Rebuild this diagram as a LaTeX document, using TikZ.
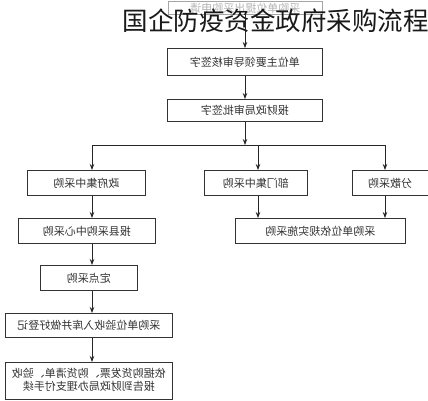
\documentclass[tikz,border=0pt]{standalone}
\usepackage{fontspec}
\usepackage{graphicx}
\newfontfamily\cjk{Noto Sans CJK SC}
\usetikzlibrary{arrows.meta,positioning}
\tikzset{
  boxst/.style={draw=black!80, line width=0.8pt, inner sep=0pt, font=\cjk\fontsize{11}{14}\selectfont, text=black!80},
  flow/.style={draw=black!85, line width=0.8pt, -{Stealth[length=6pt,width=4.5pt]}},
  plain/.style={draw=black!85, line width=0.8pt}
}
\begin{document}
\begin{tikzpicture}[x=1pt,y=1pt]
\useasboundingbox (0,0) rectangle (428,-400);
% boxes
\node[boxst, draw=black!35, text=black!30, minimum width=154, minimum height=13, anchor=north west] (b1) at (168,-1) {\reflectbox{采购单位提出采购申请}};
\node[boxst, minimum width=155, minimum height=27, anchor=north west] (b2) at (167,-48) {\reflectbox{单位主要领导审核签字}};
\node[boxst, minimum width=155, minimum height=22, anchor=north west] (b3) at (167,-99) {\reflectbox{报财政局审批签字}};
\node[boxst, minimum width=118, minimum height=25, anchor=north west] (l1) at (27,-170) {\reflectbox{政府集中采购}};
\node[boxst, minimum width=103, minimum height=25, anchor=north west] (m1) at (204,-170) {\reflectbox{部门集中采购}};
\node[boxst, minimum width=75.5, minimum height=25, anchor=north west] (r1) at (352,-170) {\reflectbox{分散采购}};
\node[boxst, minimum width=137, minimum height=25, anchor=north west] (l2) at (18,-218) {\reflectbox{报县采购中心采购}};
\node[boxst, minimum width=170, minimum height=25, anchor=north west] (r2) at (235,-218) {\reflectbox{采购单位依规实施采购}};
\node[boxst, minimum width=97, minimum height=25, anchor=north west] (l3) at (40,-265) {\reflectbox{定点采购}};
\node[boxst, minimum width=167, minimum height=24, anchor=north west] (l4) at (5,-313) {\reflectbox{采购单位验收入库并做好登记}};
\node[boxst, minimum width=167, minimum height=37, anchor=north west, line width=1pt] (l5) at (5,-362) {\reflectbox{\begin{tabular}{@{}c@{}}依据购货发票、购货清单、验收\\[-1pt]报告到财政局办理支付手续\end{tabular}}};
% title
\node[font=\cjk\fontsize{25.5}{30}\selectfont, text=black!90, inner sep=0pt] (title) at (275.5,-21) {国企防疫资金政府采购流程};
% column x positions
\coordinate (xc) at (245,0);
\coordinate (xl) at (92,0);
\coordinate (xm) at (258,0);
\coordinate (xr) at (385,0);
\coordinate (jn) at (245,-145);
\coordinate (hl) at (92,-145);
\coordinate (hr) at (385,-145);
% connectors
\draw[flow] (b1.south -| xc) -- (b2.north -| xc);
\draw[flow] (b2.south -| xc) -- (b3.north -| xc);
\draw[flow] (b3.south -| xc) -- (jn);
\draw[plain] (hl) -- (hr);
\draw[flow] (hl) -- (l1.north -| xl);
\draw[flow] (jn -| xm) -- (m1.north -| xm);
\draw[flow] (hr) -- (r1.north -| xr);
\draw[flow] (l1.south -| xl) -- (l2.north -| xl);
\draw[flow] (m1.south -| xm) -- (r2.north -| xm);
\draw[flow] (r1.south -| xr) -- (r2.north -| xr);
\draw[flow] (l2.south -| xl) -- (l3.north -| xl);
\draw[flow] (l3.south -| xl) -- (l4.north -| xl);
\draw[flow] (l4.south -| xl) -- (l5.north -| xl);
\end{tikzpicture}
\end{document}
